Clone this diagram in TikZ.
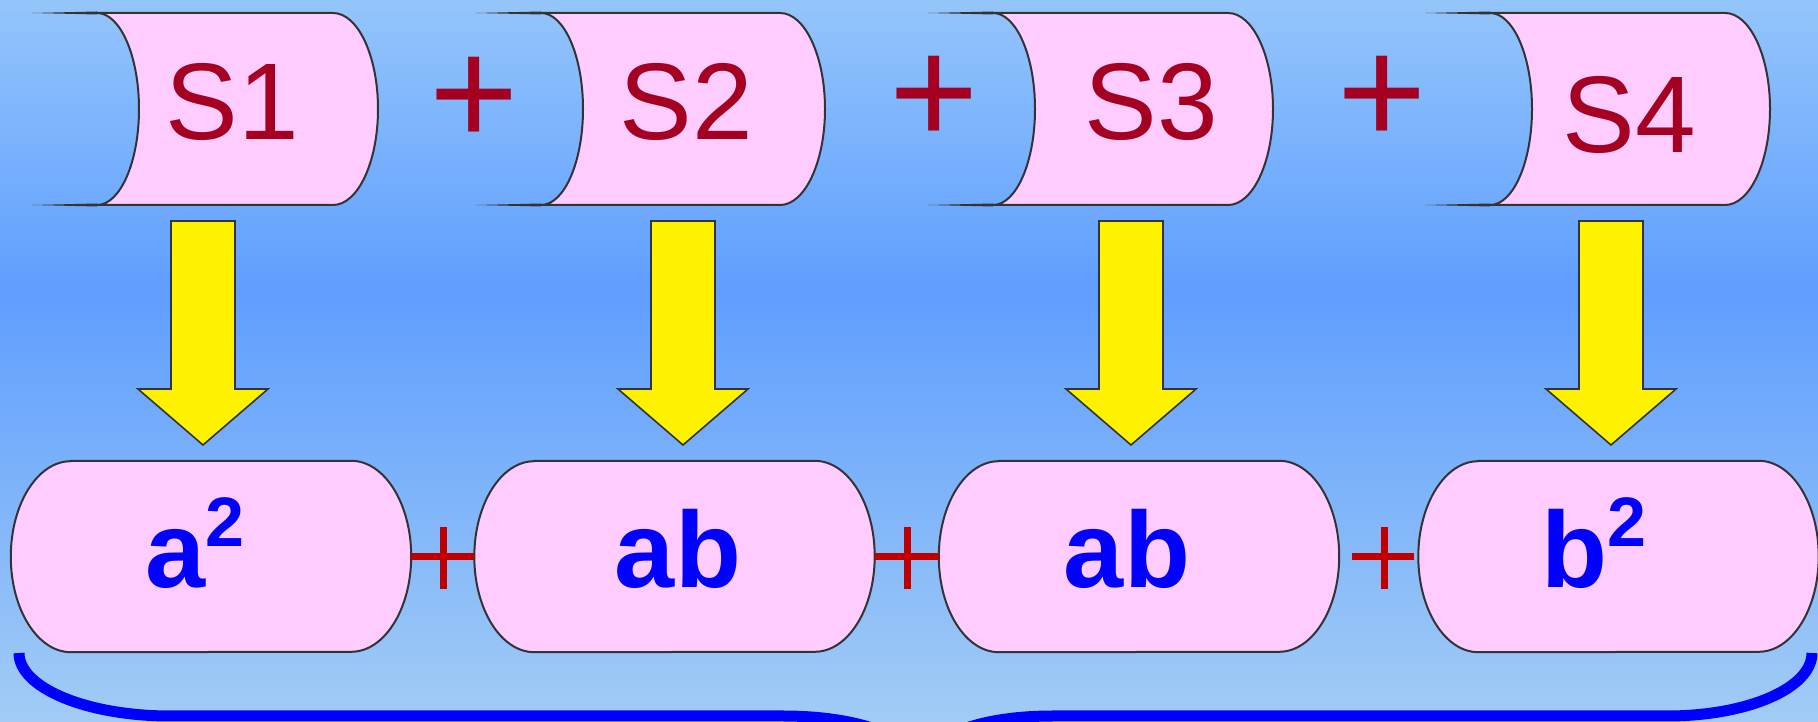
\documentclass[tikz,border=0pt]{standalone}
\usepackage{fontspec}
\setmainfont{Liberation Sans}
\definecolor{skytop}{RGB}{148,197,250}
\definecolor{skymid}{RGB}{95,158,255}
\definecolor{skybot}{RGB}{162,204,245}
\definecolor{pinkfill}{RGB}{255,204,255}
\definecolor{edgegray}{RGB}{51,51,51}
\definecolor{wine}{RGB}{165,0,33}
\definecolor{plusred}{RGB}{192,0,0}
\newcommand{\sqr}[1]{#1\raisebox{41pt}{\fontsize{70}{70}\selectfont 2}}
\begin{document}
\begin{tikzpicture}[x=1pt, y=1pt,
    body/.style={fill=pinkfill, draw=edgegray, line width=2pt},
    downarrow/.style={fill=yellow, draw=edgegray, line width=1.6pt},
    slabel/.style={text=wine, font=\fontsize{109}{109}\selectfont,
                   anchor=base, inner sep=0pt},
    term/.style={text=blue, font=\fontsize{108}{108}\selectfont\bfseries,
                 anchor=base, inner sep=0pt},
    slot/.style={minimum width=400pt, minimum height=191pt, inner sep=0pt},
    bigplus/.style={text=wine, font=\fontsize{153}{153}\selectfont,
                    anchor=base, inner sep=0pt},
    cross/.style={draw=plusred, line width=7pt}]
  \useasboundingbox (0,0) rectangle (1818,722);
  \clip (0,0) rectangle (1818,722);
  \shade[top color=skytop, bottom color=skymid] (0,432) rectangle (1818,722);
  \shade[top color=skymid, bottom color=skybot] (0,0) rectangle (1818,432);
  % drums
  \foreach \l/\r in {97/333, 541/780, 993/1228, 1490/1725} {
    \fill[edgegray] (\l-65,709) -- (\l,710.5) -- (\l,707.5) -- cycle;
    \fill[edgegray] (\l-65,517) -- (\l,518.5) -- (\l,515.5) -- cycle;
    \draw[body] (\l,709) -- (\r,709)
      arc[start angle=90, end angle=-90, x radius=45pt, y radius=96pt]
      -- (\l,517)
      arc[start angle=-90, end angle=90, x radius=42pt, y radius=96pt] -- cycle;
  }
  \foreach \x in {203, 683, 1131, 1611}
    \draw[downarrow] (\x-32,501) -- (\x+32,501) -- (\x+32,333) -- (\x+65,333)
      -- (\x,277) -- (\x-65,333) -- (\x-32,333) -- cycle;
  % terms
  \node[slot] (n1) at (211,165.5) {};
  \node[slot] (n2) at (674.5,165.5) {};
  \node[slot] (n3) at (1139,165.5) {};
  \node[slot] (n4) at (1618.5,165.5) {};
  \foreach \n in {n1,n2,n3,n4}
    \draw[body] ([xshift=60pt]\n.north west) -- ([xshift=-60pt]\n.north east)
      arc[start angle=90, end angle=-90, x radius=60pt, y radius=95.5pt]
      -- ([xshift=60pt]\n.south west)
      arc[start angle=270, end angle=90, x radius=60pt, y radius=95.5pt] -- cycle;
  \node[slabel] (s1) at (232,582) {S1};
  \node[slabel] (s2) at (686,582) {S2};
  \node[slabel] (s3) at (1151,582) {S3};
  \node[slabel] (s4) at (1629,569) {S4};
  \node[bigplus] (p1) at (474,576) {+};
  \node[bigplus] (p2) at (934,577) {+};
  \node[bigplus] (p3) at (1382,577) {+};
  \node[term] (t1) at (195,134) {\sqr{a}};
  \node[term] (t2) at (678,134) {ab};
  \node[term] (t3) at (1127,134) {ab};
  \node[term] (t4) at (1594,134) {\sqr{b}};
  \draw[cross] (n1.east) -- (n2.west);
  \draw[cross] (n2.east) -- (n3.west);
  \draw[cross, shorten <=13pt, shorten >=4pt] (n3.east) -- (n4.west);
  \foreach \x in {443, 907, 1384}
    \draw[cross] (\x,133) -- (\x,195);
  % brace
  \draw[blue, line width=11pt] (19,69) .. controls (19,34) and (87,6) .. (170,6)
    -- (783,6) .. controls (835,6) and (900,-4) .. (920,-40);
  \draw[blue, line width=11pt] (1812,69) .. controls (1812,34) and (1748,6) .. (1667,6)
    -- (1053,6) .. controls (1001,6) and (940,-4) .. (920,-40);
\end{tikzpicture}
\end{document}
